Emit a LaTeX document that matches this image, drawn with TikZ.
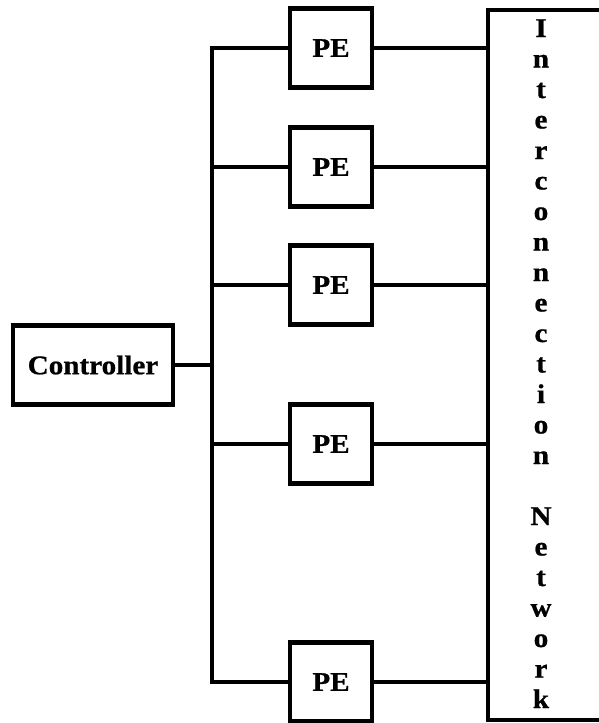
\documentclass[tikz,border=0pt]{standalone}
\usepackage{fontspec}
\setmainfont{Liberation Serif}[FakeStretch=1.08,BoldFeatures={FakeBold=0.8}]
\begin{document}
\begin{tikzpicture}[x=1pt,y=-1pt,
  boxline/.style={line width=4.2pt},
  wire/.style={line width=3.6pt},
  lbl/.style={font=\bfseries\fontsize{27}{30}\selectfont},
  pebox/.style={boxline,draw,minimum width=82pt,minimum height=79pt,inner sep=0pt,lbl},
  letter/.style={lbl,anchor=base,inner sep=0pt}]
\useasboundingbox (0,0) rectangle (598,723);
% controller
\node[boxline,draw,minimum width=160pt,minimum height=79pt,inner sep=0pt,lbl] (ctrl) at (93,365) {Controller};
% PEs
\node[pebox] (pe1) at (331,48) {PE};
\node[pebox] (pe2) at (331,167) {PE};
\node[pebox] (pe3) at (331,285) {PE};
\node[pebox] (pe4) at (331,444) {PE};
\node[pebox] (pe5) at (331,682) {PE};
% network box (right side beyond the picture)
\coordinate (ntl) at (488,10);
\coordinate (nbl) at (488,720);
\draw[boxline] (640,10) -- (ntl) -- (nbl) -- (640,720);
\foreach \l [count=\i from 0] in {I,n,t,e,r,c,o,n,n,e,c,t,i,o,n,{},N,e,t,w,o,r,k}{
  \node[letter] (L\i) at (541,37+30.5*\i) {\l};
}
% bus
\coordinate (bus) at (212,365);
\draw[wire] (pe1.west) -| (bus) |- (pe5.west);
\draw[wire] (ctrl.east) -- (bus);
\foreach \p in {pe2,pe3,pe4}{
  \draw[wire] (\p.west) -- (bus |- \p.west);
}
\foreach \p in {pe1,pe2,pe3,pe4,pe5}{
  \draw[wire] (\p.east) -- (ntl |- \p.east);
}
\end{tikzpicture}
\end{document}
